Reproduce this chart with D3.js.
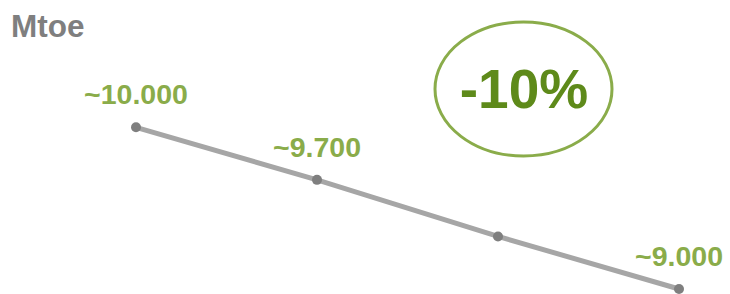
<!DOCTYPE html>
<html>
<head>
<meta charset="utf-8">
<script src="https://cdn.jsdelivr.net/npm/d3@7"></script>
<style>
  html, body { margin: 0; padding: 0; background: #fff; }
  svg { display: block; font-family: "Liberation Sans", Arial, sans-serif; }
</style>
</head>
<body>
<svg id="chart" width="730" height="294"></svg>
<script>
// データ
const categories = ["P1", "P2", "P3", "P4"];
const values = [10000, 9675, 9325, 9000];
const pointLabels = ["~10.000", "~9.700", "", "~9.000"];
const unitLabel = "Mtoe";
const changeLabel = "-10%";

const svg = d3.select("#chart");

const x = d3.scalePoint().domain(categories).range([136, 679]);
const y = d3.scaleLinear().domain([9000, 10000]).range([289, 127.3]);

// 単位
svg.append("text")
  .attr("x", 11)
  .attr("y", 37)
  .attr("font-size", 31.5)
  .attr("font-weight", "bold")
  .attr("fill", "#7f7f7f")
  .text(unitLabel);

const pts = categories.map((c, i) => ({ c, v: values[i], label: pointLabels[i] }));

// 線
const line = d3.line().x((d) => x(d.c)).y((d) => y(d.v));
svg.append("path")
  .datum(pts)
  .attr("d", line)
  .attr("fill", "none")
  .attr("stroke", "#a6a6a6")
  .attr("stroke-width", 5);

// 点
svg.selectAll(".dot")
  .data(pts)
  .enter()
  .append("circle")
  .attr("class", "dot")
  .attr("cx", (d) => x(d.c))
  .attr("cy", (d) => y(d.v))
  .attr("r", 5)
  .attr("fill", "#7f7f7f");

// ラベル
svg.selectAll(".lbl")
  .data(pts.filter((d) => d.label))
  .enter()
  .append("text")
  .attr("class", "lbl")
  .attr("x", (d) => x(d.c))
  .attr("y", (d) => y(d.v) - 23)
  .attr("text-anchor", "middle")
  .attr("font-size", 28.5)
  .attr("font-weight", "bold")
  .attr("fill", "#8aac4a")
  .text((d) => d.label);

// 変化率の楕円
svg.append("ellipse")
  .attr("cx", 523.5)
  .attr("cy", 89)
  .attr("rx", 88.5)
  .attr("ry", 67)
  .attr("fill", "none")
  .attr("stroke", "#8aac4a")
  .attr("stroke-width", 3);

svg.append("text")
  .attr("x", 524)
  .attr("y", 108)
  .attr("text-anchor", "middle")
  .attr("font-size", 55)
  .attr("font-weight", "bold")
  .attr("fill", "#5e8a1a")
  .text(changeLabel);
</script>
</body>
</html>
